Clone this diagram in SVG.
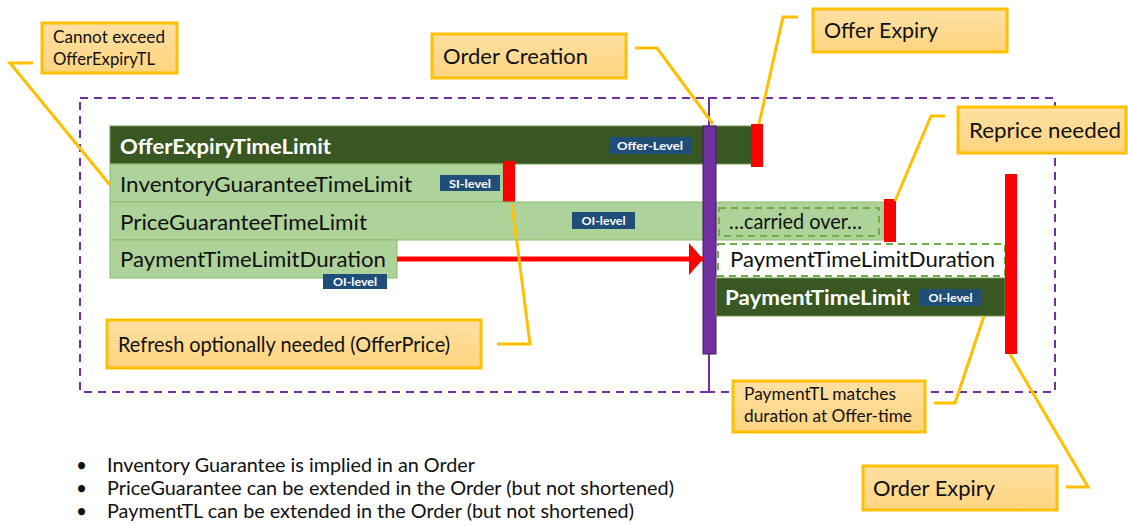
<svg xmlns="http://www.w3.org/2000/svg" width="1128" height="526" viewBox="0 0 1128 526">
<defs>
<linearGradient id="og" x1="0" y1="0" x2="0" y2="1">
<stop offset="0" stop-color="#FFE0A3"/>
<stop offset="1" stop-color="#FFD47F"/>
</linearGradient>
<marker id="ah" viewBox="0 0 14 32" refX="14" refY="16" markerWidth="14" markerHeight="32" markerUnits="userSpaceOnUse" orient="auto">
<path d="M0,0 L14,16 L0,32 Z" fill="#FF0000"/>
</marker>
</defs>
<style>
text{font-family:Lato,"Liberation Sans",sans-serif;}
.zone{fill:none;stroke:#7030A0;stroke-width:2;stroke-dasharray:8 6;}
.dark{fill:#385723;stroke:#6f9a52;stroke-width:1;}
.light{fill:#ADD39A;stroke:#8DBB70;stroke-width:1;}
.red{fill:#FF0000;}
.tag{fill:#1F4E79;}
.tagt{fill:#FFFFFF;font-size:12px;font-weight:bold;text-anchor:middle;}
.wt{fill:#FFFFFF;font-size:21px;font-weight:bold;}
.bt{fill:#111111;font-size:21px;}
.call{fill:url(#og);stroke:#FFC000;stroke-width:3;}
.ct{fill:#111111;font-size:22px;}
.cs{fill:#111111;font-size:17px;}
.lead{fill:none;stroke:#FFC000;stroke-width:3;}
.gd{fill:none;stroke:#70AD47;stroke-width:2;stroke-dasharray:7 5;}
.bul{fill:#111111;font-size:19px;}
</style>

<g id="zones">
<rect class="zone" x="80" y="98" width="629" height="294"/>
<rect class="zone" x="709" y="98" width="346" height="294"/>
<line x1="709" y1="98" x2="709" y2="392" stroke="#7030A0" stroke-width="2"/>
</g>

<g id="offer-expiry-tl">
<rect class="dark" x="110" y="126" width="642" height="38"/>
<text class="wt" x="120" y="154" textLength="211" lengthAdjust="spacingAndGlyphs">OfferExpiryTimeLimit</text>
<rect class="tag" x="609" y="137" width="82" height="17"/>
<text class="tagt" x="650" y="150" textLength="66" lengthAdjust="spacingAndGlyphs">Offer-Level</text>
<rect class="red" x="751" y="124" width="12" height="43"/>
</g>

<g id="inventory-guarantee-tl">
<rect class="light" x="110" y="164" width="393" height="38"/>
<text class="bt" x="120" y="192" textLength="292" lengthAdjust="spacingAndGlyphs">InventoryGuaranteeTimeLimit</text>
<rect class="tag" x="440" y="175" width="60" height="16"/>
<text class="tagt" x="470" y="188" textLength="42" lengthAdjust="spacingAndGlyphs">SI-level</text>
<rect class="red" x="503" y="161" width="12" height="43"/>
</g>

<g id="price-guarantee-tl">
<rect class="light" x="110" y="202" width="593" height="38"/>
<rect class="light" x="716" y="202" width="168" height="38"/>
<text class="bt" x="120" y="230" textLength="247" lengthAdjust="spacingAndGlyphs">PriceGuaranteeTimeLimit</text>
<rect class="tag" x="572" y="212" width="63" height="17"/>
<text class="tagt" x="603.5" y="225" textLength="44" lengthAdjust="spacingAndGlyphs">OI-level</text>
<rect class="gd" x="719" y="208" width="160" height="28"/>
<text class="bt" x="729" y="229" textLength="133" lengthAdjust="spacingAndGlyphs">…carried over…</text>
<rect class="red" x="884" y="199" width="12" height="43"/>
</g>

<g id="payment-tl-duration">
<rect class="light" x="110" y="240" width="287" height="38"/>
<text class="bt" x="120" y="267" textLength="266" lengthAdjust="spacingAndGlyphs">PaymentTimeLimitDuration</text>
<rect class="tag" x="323" y="274" width="64" height="15"/>
<text class="tagt" x="355" y="286" textLength="44" lengthAdjust="spacingAndGlyphs">OI-level</text>
</g>

<g id="order-creation-bar">
<rect x="703" y="126" width="13" height="228" fill="#7030A0" stroke="#3F1D5C" stroke-width="1"/>
</g>

<g id="payment-tl-duration-order">
<rect x="718" y="244" width="287" height="32" fill="#FFFFFF" class="gd"/>
<text class="bt" x="730" y="267" textLength="265" lengthAdjust="spacingAndGlyphs">PaymentTimeLimitDuration</text>
</g>

<g id="payment-tl">
<rect class="dark" x="716" y="278" width="289" height="38"/>
<text class="wt" x="725" y="305" textLength="185" lengthAdjust="spacingAndGlyphs">PaymentTimeLimit</text>
<rect class="tag" x="919" y="289" width="63" height="17"/>
<text class="tagt" x="950.5" y="302" textLength="44" lengthAdjust="spacingAndGlyphs">OI-level</text>
</g>

<g id="order-expiry-bar">
<rect class="red" x="1005" y="174" width="12" height="180"/>
</g>

<g id="connectors">
<line x1="397" y1="259" x2="703" y2="259" stroke="#FF0000" stroke-width="5" marker-end="url(#ah)"/>
<polyline class="lead" points="33,63 10,63 110,185"/>
<polyline class="lead" points="635,48 657,48 713,124"/>
<polyline class="lead" points="798,17 783,17 759,124"/>
<polyline class="lead" points="945,116 931,116 895,201"/>
<polyline class="lead" points="497,344 530,344 512,204"/>
<polyline class="lead" points="934,403 955,403 984,316"/>
<polyline class="lead" points="1066,487 1088,487 1010,354"/>
</g>

<g id="callout-cannot-exceed">
<rect class="call" x="42" y="23" width="135" height="50"/>
<text class="cs" x="53" y="43" textLength="112" lengthAdjust="spacingAndGlyphs">Cannot exceed</text>
<text class="cs" x="53" y="65" textLength="102" lengthAdjust="spacingAndGlyphs">OfferExpiryTL</text>
</g>

<g id="callout-order-creation">
<rect class="call" x="432" y="34" width="194" height="44"/>
<text class="ct" x="443" y="64" textLength="145" lengthAdjust="spacingAndGlyphs">Order Creation</text>
</g>

<g id="callout-offer-expiry">
<rect class="call" x="813" y="9" width="194" height="43"/>
<text class="ct" x="824" y="38" textLength="114" lengthAdjust="spacingAndGlyphs">Offer Expiry</text>
</g>

<g id="callout-reprice">
<rect class="call" x="958" y="107" width="168" height="46"/>
<text class="ct" x="969" y="138" textLength="152" lengthAdjust="spacingAndGlyphs">Reprice needed</text>
</g>

<g id="callout-refresh">
<rect class="call" x="107" y="320" width="374" height="48"/>
<text class="bt" x="118" y="352" font-size="20" textLength="332" lengthAdjust="spacingAndGlyphs">Refresh optionally needed (OfferPrice)</text>
</g>

<g id="callout-paymenttl-matches">
<rect class="call" x="733" y="381" width="192" height="51"/>
<text class="cs" x="744" y="400" textLength="152" lengthAdjust="spacingAndGlyphs">PaymentTL matches</text>
<text class="cs" x="744" y="422" textLength="168" lengthAdjust="spacingAndGlyphs">duration at Offer-time</text>
</g>

<g id="callout-order-expiry">
<rect class="call" x="863" y="466" width="194" height="44"/>
<text class="ct" x="873" y="496" textLength="122" lengthAdjust="spacingAndGlyphs">Order Expiry</text>
</g>

<g id="notes">
<text class="bul" x="76" y="472">•</text>
<text class="bul" x="107" y="472" textLength="368" lengthAdjust="spacingAndGlyphs">Inventory Guarantee is implied in an Order</text>
<text class="bul" x="76" y="495">•</text>
<text class="bul" x="107" y="495" textLength="567" lengthAdjust="spacingAndGlyphs">PriceGuarantee can be extended in the Order (but not shortened)</text>
<text class="bul" x="76" y="518">•</text>
<text class="bul" x="107" y="518" textLength="527" lengthAdjust="spacingAndGlyphs">PaymentTL can be extended in the Order (but not shortened)</text>
</g>
</svg>
